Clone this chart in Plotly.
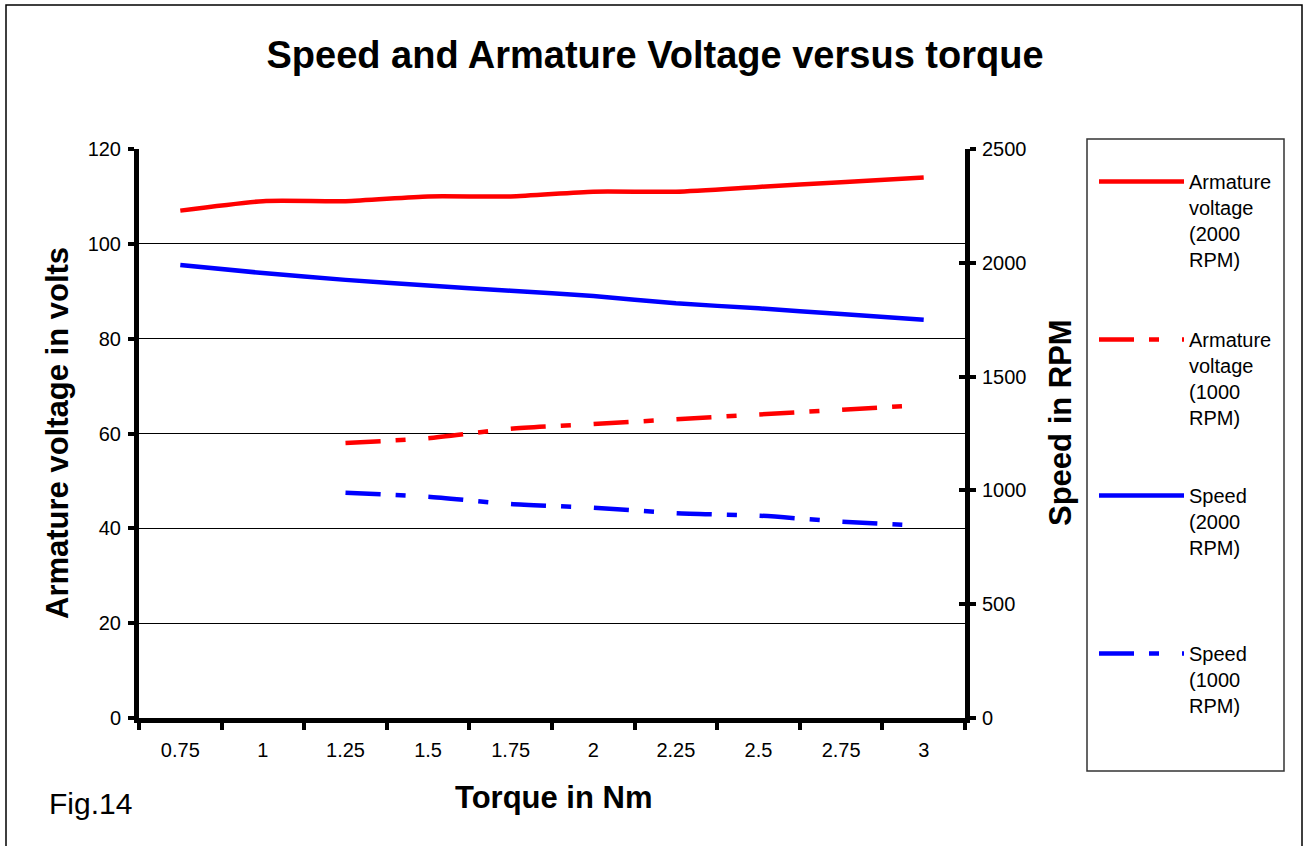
import plotly.graph_objects as go

torque = ["0.75", "1", "1.25", "1.5", "1.75", "2", "2.25", "2.5", "2.75", "3"]
volt_2000 = [107, 109, 109, 110, 110, 111, 111, 112, 113, 114]
volt_1000 = [None, None, 58, 59, 61, 62, 63, 64, 65, 66]
speed_2000 = [1990, 1955, 1925, 1900, 1877, 1854, 1822, 1800, 1775, 1750]
speed_1000 = [None, None, 990, 972, 940, 924, 900, 889, 863, 845]

names = [
    "Armature<br>voltage<br>(2000<br>RPM)",
    "Armature<br>voltage<br>(1000<br>RPM)",
    "Speed<br>(2000<br>RPM)",
    "Speed<br>(1000<br>RPM)",
]

FONT = "Liberation Sans, Arial, sans-serif"
W, H = 1309, 846
PL, PR, PT, PB = 139, 965, 149, 718  # plot area in px


def px_x(px):
    return (px - PL) / (PR - PL)


def px_y(py):
    return (PB - py) / (PB - PT)


DASH = "35px,15px,10px,23px"

fig = go.Figure()
fig.add_trace(go.Scatter(x=torque, y=volt_2000, name=names[0], mode="lines",
                         line=dict(color="#ff0000", width=4.5, shape="spline", smoothing=0.6),
                         legend="legend"))
fig.add_trace(go.Scatter(x=torque, y=volt_1000, name=names[1], mode="lines",
                         line=dict(color="#ff0000", width=4.5, dash=DASH, shape="spline", smoothing=0.6),
                         legend="legend2"))
fig.add_trace(go.Scatter(x=torque, y=speed_2000, name=names[2], mode="lines", yaxis="y2",
                         line=dict(color="#0000ff", width=4.5, shape="spline", smoothing=0.6),
                         legend="legend3"))
fig.add_trace(go.Scatter(x=torque, y=speed_1000, name=names[3], mode="lines", yaxis="y2",
                         line=dict(color="#0000ff", width=4.5, dash=DASH, shape="spline", smoothing=0.6),
                         legend="legend4"))
# invisible trace to hold the crossing ticks of the right axis
fig.add_trace(go.Scatter(x=[torque[0]], y=[0], yaxis="y3", mode="lines", showlegend=False,
                         hoverinfo="skip", line=dict(width=0)))

legend_lines_y = [182, 340, 496, 654]
legend_common = dict(bgcolor="rgba(0,0,0,0)", borderwidth=0, itemwidth=85, valign="top",
                     font=dict(family=FONT, size=20, color="black"),
                     xanchor="left", yanchor="top", x=px_x(1094))

layout_legends = {}
for i, ly in enumerate(legend_lines_y):
    key = "legend" if i == 0 else f"legend{i+1}"
    layout_legends[key] = dict(legend_common, y=px_y(ly - 20))

tickfont = dict(family=FONT, size=20, color="black")

fig.update_layout(
    width=W, height=H,
    margin=dict(l=PL, r=W - PR, t=PT, b=H - PB),
    paper_bgcolor="white", plot_bgcolor="white",
    title=dict(text="<b>Speed and Armature Voltage versus torque</b>",
               font=dict(family=FONT, size=38, color="black"),
               x=655 / W, xanchor="center", xref="container", y=1 - 55 / H, yanchor="middle"),
    showlegend=True,
    xaxis=dict(type="category", range=[-0.5, 9.5], tickson="boundaries",
               ticks="outside", ticklen=7, tickwidth=4, tickcolor="black",
               showline=True, linewidth=5, linecolor="black", showgrid=False,
               zeroline=False, tickfont=tickfont, ticklabelstandoff=10),
    yaxis=dict(range=[0, 120], dtick=20, ticks="outside", ticklen=6, tickwidth=4,
               tickcolor="black", showline=True, linewidth=5, linecolor="black",
               showgrid=True, gridcolor="black", gridwidth=1, zeroline=False,
               tickfont=tickfont, ticklabelstandoff=3),
    yaxis2=dict(range=[0, 2500], dtick=500, overlaying="y", side="right",
                ticks="outside", ticklen=6, tickwidth=4, tickcolor="black",
                showline=True, linewidth=5, linecolor="black", showgrid=False,
                zeroline=False, tickfont=tickfont, ticklabelstandoff=2),
    yaxis3=dict(range=[0, 2500], dtick=500, overlaying="y", side="right",
                ticks="inside", ticklen=6, tickwidth=4, tickcolor="black",
                showline=False, showgrid=False, zeroline=False, showticklabels=False),
    shapes=[
        dict(type="rect", xref="paper", yref="paper",
             x0=px_x(6), x1=px_x(1302), y0=px_y(900), y1=px_y(5),
             line=dict(color="black", width=1.5), fillcolor="rgba(0,0,0,0)", layer="below"),
        dict(type="rect", xref="paper", yref="paper",
             x0=px_x(1087), x1=px_x(1284), y0=px_y(771), y1=px_y(139),
             line=dict(color="#333333", width=1.5), fillcolor="rgba(0,0,0,0)"),
    ],
    annotations=[
        dict(text="<b>Armature voltage in volts</b>", xref="paper", yref="paper",
             x=px_x(57), y=px_y(433), textangle=-90, showarrow=False,
             xanchor="center", yanchor="middle", font=dict(family=FONT, size=31, color="black")),
        dict(text="<b>Speed in RPM</b>", xref="paper", yref="paper",
             x=px_x(1060), y=px_y(423), textangle=-90, showarrow=False,
             xanchor="center", yanchor="middle", font=dict(family=FONT, size=31, color="black")),
        dict(text="<b>Torque in Nm</b>", xref="paper", yref="paper",
             x=px_x(553), y=px_y(797), showarrow=False,
             xanchor="center", yanchor="middle", font=dict(family=FONT, size=31, color="black")),
        dict(text="Fig.14", xref="paper", yref="paper",
             x=px_x(90), y=px_y(803), showarrow=False,
             xanchor="center", yanchor="middle", font=dict(family=FONT, size=30, color="black")),
    ],
    **layout_legends,
)

fig.write_html("out.html")
